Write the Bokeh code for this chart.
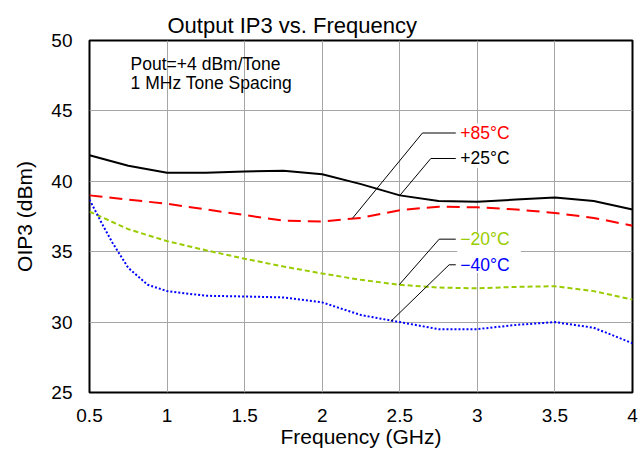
from bokeh.plotting import figure
from bokeh.models import ColumnDataSource, FixedTicker, Range1d
from bokeh.core.properties import value
from bokeh.embed import file_html
from bokeh.resources import INLINE

FONT = "Liberation Sans"

# ---- data ----
freq_black = [0.5, 0.75, 1.0, 1.25, 1.5, 1.75, 2.0, 2.25, 2.5, 2.75, 3.0, 3.25, 3.5, 3.75, 4.0]
oip3_p25 = [41.85, 41.1, 40.6, 40.6, 40.7, 40.75, 40.5, 39.8, 39.0, 38.6, 38.55, 38.7, 38.85, 38.6, 38.0]

freq_red = [0.5, 0.75, 1.0, 1.25, 1.5, 1.75, 2.0, 2.25, 2.5, 2.75, 3.0, 3.25, 3.5, 3.75, 4.0]
oip3_p85 = [39.0, 38.7, 38.4, 38.0, 37.6, 37.2, 37.15, 37.4, 37.95, 38.2, 38.15, 38.0, 37.75, 37.4, 36.85]

freq_green = [0.5, 0.75, 1.0, 1.25, 1.5, 1.75, 2.0, 2.25, 2.5, 2.75, 3.0, 3.25, 3.5, 3.75, 4.0]
oip3_m20 = [37.85, 36.6, 35.75, 35.1, 34.5, 33.95, 33.45, 33.0, 32.65, 32.45, 32.4, 32.5, 32.55, 32.2, 31.6]

freq_blue = [0.5, 0.58, 0.65, 0.75, 0.875, 1.0, 1.25, 1.5, 1.75, 2.0, 2.25, 2.5, 2.75, 3.0, 3.25, 3.5, 3.75, 4.0]
oip3_m40 = [38.7, 37.0, 35.6, 33.85, 32.65, 32.2, 31.87, 31.82, 31.75, 31.4, 30.5, 30.0, 29.5, 29.5, 29.8, 30.0, 29.6, 28.5]

x_ticks = [0.5, 1.0, 1.5, 2.0, 2.5, 3.0, 3.5, 4.0]
x_tick_labels = ["0.5", "1", "1.5", "2", "2.5", "3", "3.5", "4"]
y_ticks = [25, 30, 35, 40, 45, 50]
y_tick_labels = ["25", "30", "35", "40", "45", "50"]

# series labels and leader lines (curve point -> elbow -> end)
series_labels = ["+85°C", "+25°C", "\u221220°C", "\u221240°C"]
label_colors = ["#ff0000", "#000000", "#99cc00", "#0000ff"]
label_x = [2.89, 2.89, 2.89, 2.89]
label_y = [43.43, 41.62, 35.89, 34.07]
leader_xs = [[2.195, 2.646, 2.861], [2.502, 2.70, 2.861], [2.496, 2.754, 2.861], [2.442, 2.818, 2.861]]
leader_ys = [[37.37, 43.43, 43.43], [39.02, 41.62, 41.62], [32.65, 35.89, 35.89], [30.05, 34.07, 34.07]]

# white backgrounds behind the label groups
box_left = [2.87, 2.87]
box_right = [3.28, 3.28]
box_top = [44.1, 36.35]
box_bottom = [40.95, 33.5]

note_lines = ["Pout=+4 dBm/Tone", "1 MHz Tone Spacing"]
note_x = [0.765, 0.765]
note_y = [48.3, 46.95]

# ---- figure ----
p = figure(width=640, height=450, output_backend="svg", toolbar_location=None,
           x_range=Range1d(0.5, 4.0), y_range=Range1d(25, 50),
           min_border_left=89, min_border_right=8, min_border_top=40, min_border_bottom=57)

p.title.text = "Output IP3 vs. Frequency"
p.title.text_font = FONT
p.title.text_font_size = "22px"
p.title.text_font_style = "normal"
p.title.text_color = "black"
p.title.align = "left"
p.title.offset = 78
p.title.standoff = 5

p.outline_line_color = "black"
p.outline_line_width = 2
p.background_fill_color = "white"
p.border_fill_color = "white"

for ax in (p.xaxis[0], p.yaxis[0]):
    ax.axis_line_color = None
    ax.major_tick_line_color = None
    ax.minor_tick_line_color = None
    ax.major_label_text_font = FONT
    ax.major_label_text_font_size = "19px"
    ax.major_label_text_color = "black"
    ax.axis_label_text_font = FONT
    ax.axis_label_text_font_size = "21px"
    ax.axis_label_text_font_style = "normal"
    ax.axis_label_text_color = "black"

p.xaxis.ticker = FixedTicker(ticks=x_ticks)
p.xaxis.major_label_overrides = dict(zip(x_ticks, x_tick_labels))
p.yaxis.ticker = FixedTicker(ticks=y_ticks)
p.yaxis.major_label_overrides = dict(zip(y_ticks, y_tick_labels))
p.xaxis.axis_label = "Frequency (GHz)"
p.yaxis.axis_label = "OIP3 (dBm)"
p.xaxis.major_label_standoff = 10
p.yaxis.major_label_standoff = 11
p.xaxis.axis_label_standoff = 0
p.yaxis.axis_label_standoff = 12

p.xgrid.ticker = FixedTicker(ticks=x_ticks)
p.ygrid.ticker = FixedTicker(ticks=y_ticks)
p.grid.grid_line_color = "#a6a6a6"
p.grid.grid_line_width = 1

# white label boxes over the grid
p.quad(left=box_left, right=box_right, top=box_top, bottom=box_bottom,
       fill_color="white", line_color=None)

# curves
p.line(freq_black, oip3_p25, line_color="black", line_width=2)
p.line(freq_red, oip3_p85, line_color="#ff0000", line_width=2, line_dash="13 7")
p.line(freq_green, oip3_m20, line_color="#99cc00", line_width=2, line_dash="5 3")
p.line(freq_blue, oip3_m40, line_color="#0000ff", line_width=2, line_dash="2 2")

# leader lines
p.multi_line(xs=leader_xs, ys=leader_ys, line_color="black", line_width=1)

lab_src = ColumnDataSource(dict(x=label_x, y=label_y, text=series_labels, color=label_colors))
p.text(x="x", y="y", text="text", text_color="color", source=lab_src,
       text_font=value(FONT), text_font_size="17.5px", text_baseline="middle", text_align="left")

note_src = ColumnDataSource(dict(x=note_x, y=note_y, text=note_lines))
p.text(x="x", y="y", text="text", source=note_src, text_color="black",
       text_font=value(FONT), text_font_size="17.5px", text_baseline="middle", text_align="left")

open("out.html", "w").write(file_html(p, INLINE))
